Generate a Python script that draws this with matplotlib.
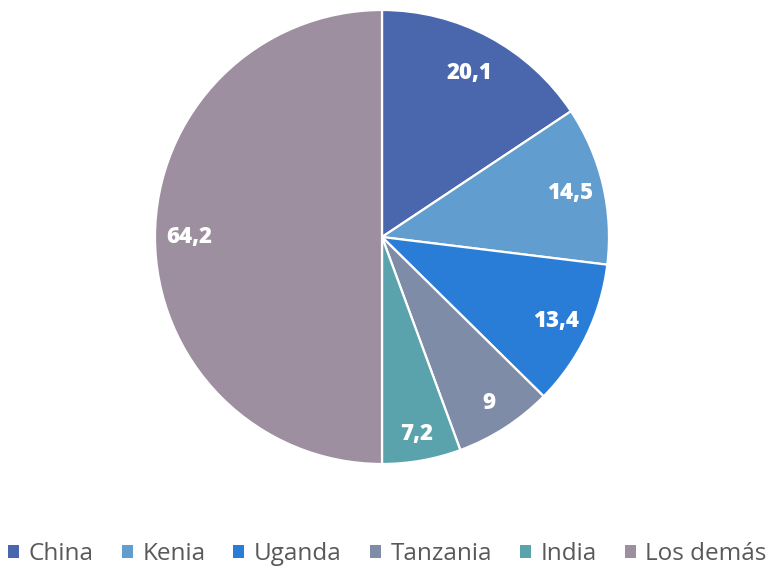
import matplotlib
matplotlib.use("Agg")
import matplotlib.pyplot as plt
from matplotlib.patches import Patch
import numpy as np

categories = ["China", "Kenia", "Uganda", "Tanzania", "India", "Los demás"]
values = [20.1, 14.5, 13.4, 9, 7.2, 64.2]
colors = ["#4a66ad", "#629dd0", "#2a7dd6", "#7f8ca7", "#5ba3ac", "#9d8f9f"]
value_labels = ["20,1", "14,5", "13,4", "9", "7,2", "64,2"]

plt.rcParams["font.family"] = ["Open Sans", "DejaVu Sans"]

W, H = 775, 567
fig = plt.figure(figsize=(W / 100, H / 100), dpi=100)
cx, cy, r = 382, 237, 227
ax = fig.add_axes([(cx - r) / W, (H - cy - r) / H, 2 * r / W, 2 * r / H])

wedges, _ = ax.pie(values, colors=colors, startangle=90, counterclock=False,
                   radius=1, wedgeprops=dict(edgecolor="white", linewidth=1.6))
ax.set_xlim(-1, 1)
ax.set_ylim(-1, 1)

dists = [0.82, 0.85, 0.85, 0.87, 0.88, 0.85]
for w, lab, d in zip(wedges, value_labels, dists):
    ang = np.deg2rad((w.theta1 + w.theta2) / 2)
    ax.text(d * np.cos(ang), d * np.sin(ang), lab, ha="center", va="center",
            color="white", fontsize=16, fontweight="heavy")

handles = [Patch(facecolor=c, edgecolor="none", label=n) for c, n in zip(colors, categories)]
fig.legend(handles=handles, loc="center", bbox_to_anchor=(0.5, 1 - 554 / H), ncol=6,
           frameon=False, fontsize=17.5, handlelength=0.45, handleheight=0.45,
           handletextpad=0.4, columnspacing=1.15, labelcolor="#595959")

fig.savefig("out.png", dpi=100)
